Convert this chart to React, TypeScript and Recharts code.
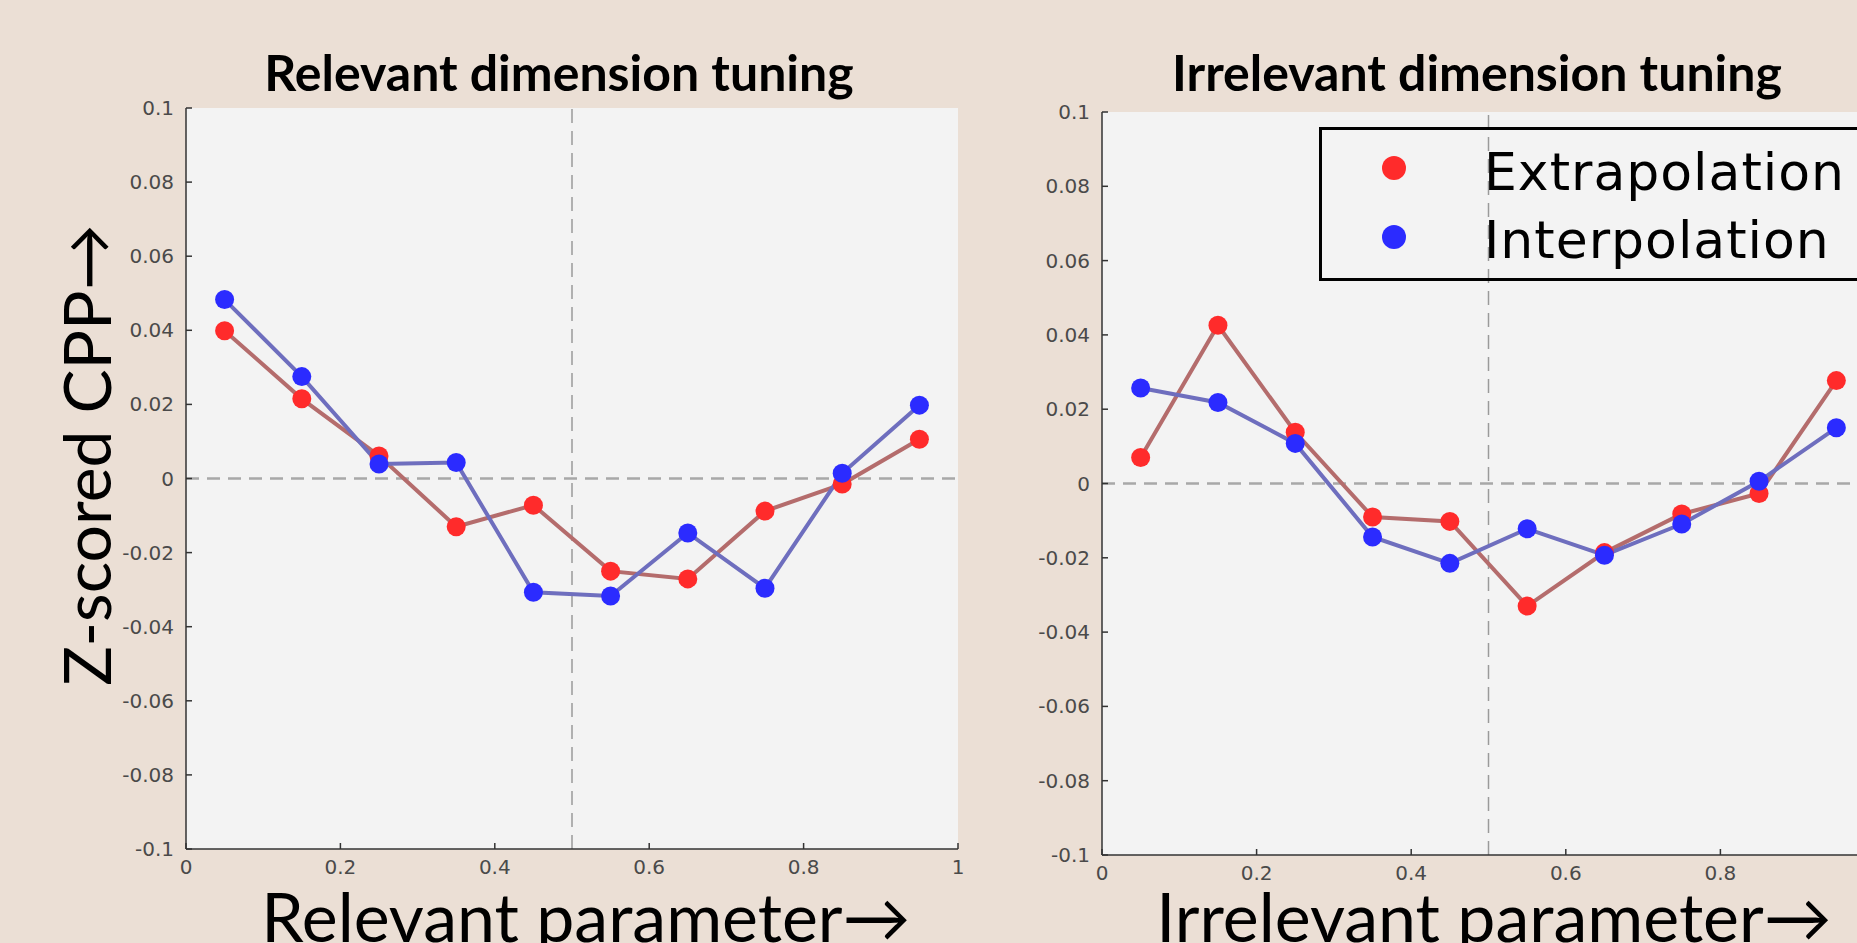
import { LineChart, Line, XAxis, YAxis, CartesianGrid, ReferenceLine, Legend } from 'recharts';

// x positions of the 10 parameter bins
const xValues = [0.05, 0.15, 0.25, 0.35, 0.45, 0.55, 0.65, 0.75, 0.85, 0.95];

// left panel: relevant dimension tuning
const relevantExtrapolation = [0.0399, 0.0215, 0.0061, -0.013, -0.0072, -0.025, -0.0271, -0.0088, -0.0015, 0.0106];
const relevantInterpolation = [0.0483, 0.0275, 0.0039, 0.0043, -0.0307, -0.0317, -0.0147, -0.0296, 0.0014, 0.0198];

// right panel: irrelevant dimension tuning
const irrelevantExtrapolation = [0.007, 0.0426, 0.0138, -0.009, -0.0102, -0.033, -0.0186, -0.0082, -0.0027, 0.0277];
const irrelevantInterpolation = [0.0257, 0.0218, 0.0108, -0.0144, -0.0215, -0.0122, -0.0193, -0.0109, 0.0006, 0.015];

const xTicks = [0, 0.2, 0.4, 0.6, 0.8, 1];
const yTicks = [-0.1, -0.08, -0.06, -0.04, -0.02, 0, 0.02, 0.04, 0.06, 0.08, 0.1];
const seriesNames = ['Extrapolation', 'Interpolation'];

const RED_DOT = '#ff2b2b';
const BLUE_DOT = '#2b2bff';
const RED_LINE = '#b46c6c';
const BLUE_LINE = '#6e6ebe';
const TICK_FONT = 'DejaVu Sans';
const LABEL_FONT = 'Lato, "Open Sans", sans-serif';

const toRows = (ext: number[], int: number[]) =>
  xValues.map((x, i) => ({ x, ext: ext[i], int: int[i] }));

const YTick = (props: any) => {
  const { x, y, payload } = props;
  return (
    <g>
      <line x1={x + 12} x2={x + 18} y1={y} y2={y} stroke="#333" strokeWidth={1.5} />
      <text x={x} y={y} dy={7} textAnchor="end" fontFamily={TICK_FONT} fontSize={20} fill="#4a4a4a">
        {String(payload.value)}
      </text>
    </g>
  );
};

const XTick = (props: any) => {
  const { x, y, payload } = props;
  return (
    <g>
      <line x1={x} x2={x} y1={y - 14} y2={y - 20} stroke="#333" strokeWidth={1.5} />
      <text x={x} y={y} dy={11} textAnchor="middle" fontFamily={TICK_FONT} fontSize={20} fill="#4a4a4a">
        {String(payload.value)}
      </text>
    </g>
  );
};

const LegendBox = () => (
  <svg width={580} height={155} style={{ display: 'block', overflow: 'visible' }}>
    <rect x={1.5} y={1.5} width={620} height={151} fill="none" stroke="#000" strokeWidth={3} />
    <circle cx={75} cy={41} r={12} fill={RED_DOT} />
    <circle cx={75} cy={110} r={12} fill={BLUE_DOT} />
    <text x={165} y={63} fontFamily={TICK_FONT} fontSize={52} fill="#000" letterSpacing={1}>
      {seriesNames[0]}
    </text>
    <text x={165} y={131} fontFamily={TICK_FONT} fontSize={52} fill="#000" letterSpacing={1}>
      {seriesNames[1]}
    </text>
  </svg>
);

interface PanelProps {
  ext: number[];
  int: number[];
  left: number;
  width: number;
  margin: { top: number; right: number; bottom: number; left: number };
  showLegend?: boolean;
}

function Panel({ ext, int, left, width, margin, showLegend }: PanelProps) {
  const data = toRows(ext, int);
  return (
    <div style={{ position: 'absolute', left, top: 0 }}>
      <LineChart width={width} height={943} data={data} margin={margin}>
        <CartesianGrid horizontal={false} vertical={false} fill="#f3f3f3" fillOpacity={1} />
        <XAxis
          type="number"
          dataKey="x"
          domain={[0, 1]}
          ticks={xTicks}
          interval={0}
          height={40}
          tickSize={0}
          tickMargin={14}
          tickLine={false}
          axisLine={{ stroke: '#333', strokeWidth: 1.5 }}
          tick={XTick}
        />
        <YAxis
          type="number"
          domain={[-0.1, 0.1]}
          ticks={yTicks}
          interval={0}
          width={80}
          tickSize={0}
          tickMargin={12}
          tickLine={false}
          axisLine={{ stroke: '#333', strokeWidth: 1.5 }}
          tick={YTick}
        />
        <ReferenceLine y={0} stroke="#a8a8a8" strokeWidth={2.5} strokeDasharray="13 8" />
        <ReferenceLine x={0.5} stroke="#9a9a9a" strokeWidth={1.5} strokeDasharray="14 8" />
        <Line
          dataKey="ext"
          name={seriesNames[0]}
          stroke={RED_LINE}
          strokeWidth={4}
          dot={{ r: 9.5, fill: RED_DOT, stroke: 'none', fillOpacity: 1 }}
          activeDot={false}
          isAnimationActive={false}
        />
        <Line
          dataKey="int"
          name={seriesNames[1]}
          stroke={BLUE_LINE}
          strokeWidth={4}
          dot={{ r: 9.5, fill: BLUE_DOT, stroke: 'none', fillOpacity: 1 }}
          activeDot={false}
          isAnimationActive={false}
        />
        {showLegend && (
          <Legend
            layout="vertical"
            align="center"
            verticalAlign="middle"
            content={LegendBox}
            wrapperStyle={{ left: 319, top: 127, width: 580, height: 155 }}
          />
        )}
      </LineChart>
    </div>
  );
}

export default function App() {
  return (
    <div
      style={{
        position: 'absolute',
        left: 0,
        top: 0,
        width: 1857,
        height: 943,
        overflow: 'hidden',
        background: '#ebdfd5',
      }}
    >
      <Panel
        ext={relevantExtrapolation}
        int={relevantInterpolation}
        left={0}
        width={1000}
        margin={{ top: 108, right: 42, bottom: 54, left: 106 }}
      />
      <Panel
        ext={irrelevantExtrapolation}
        int={irrelevantInterpolation}
        left={1000}
        width={900}
        margin={{ top: 112, right: 25, bottom: 48, left: 22 }}
        showLegend
      />
      <svg
        width={1857}
        height={943}
        style={{ position: 'absolute', left: 0, top: 0, pointerEvents: 'none' }}
      >
        <text x={559} y={91} textAnchor="middle" fontFamily={LABEL_FONT} fontWeight={700} fontSize={50} fill="#000">
          Relevant dimension tuning
        </text>
        <text x={1477} y={91} textAnchor="middle" fontFamily={LABEL_FONT} fontWeight={700} fontSize={50} fill="#000">
          Irrelevant dimension tuning
        </text>
        <text
          x={111}
          y={455}
          transform="rotate(-90 111 455)"
          textAnchor="middle"
          fontFamily={LABEL_FONT}
          fontSize={66}
          fill="#000"
        >
          Z-scored CPP→
        </text>
        <text x={586} y={942} textAnchor="middle" fontFamily={LABEL_FONT} fontSize={68} fill="#000">
          Relevant parameter→
        </text>
        <text x={1494} y={942} textAnchor="middle" fontFamily={LABEL_FONT} fontSize={68} fill="#000">
          Irrelevant parameter→
        </text>
      </svg>
    </div>
  );
}
